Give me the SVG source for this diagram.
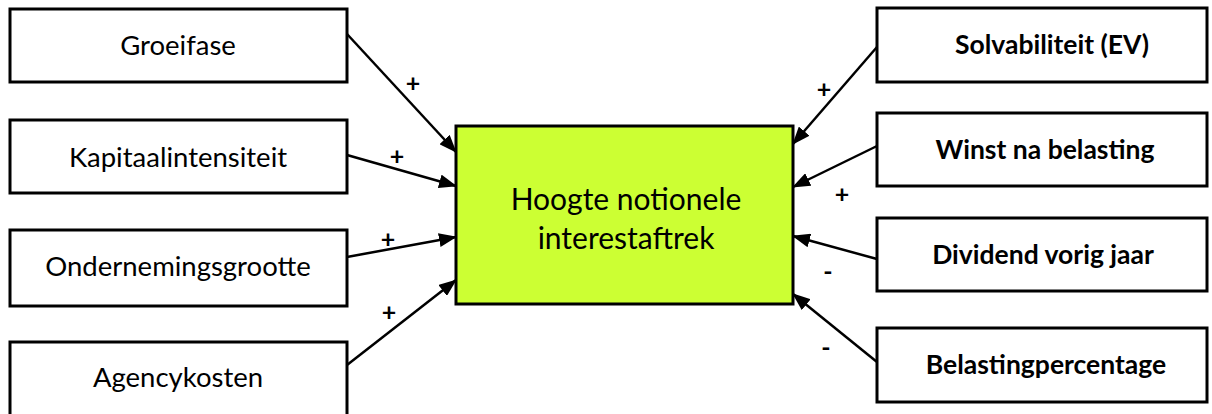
<svg xmlns="http://www.w3.org/2000/svg" width="1212" height="414" viewBox="0 0 1212 414">
  <style>
    .box { fill: #ffffff; stroke: #000000; stroke-width: 3; }
    .core { fill: #ccff33; stroke: #000000; stroke-width: 3; }
    .lbl { font-family: Lato, "Open Sans", sans-serif; font-size: 27.5px; fill: #000000; text-anchor: middle; }
    .bold { font-weight: bold; font-size: 26.5px; }
    .big { font-size: 30px; }
    .sign { font-family: Lato, "Open Sans", sans-serif; font-size: 25px; font-weight: bold; fill: #000000; text-anchor: middle; }
    .link { stroke: #000000; stroke-width: 2.5; fill: none; marker-end: url(#head); }
  </style>
  <defs>
    <marker id="head" viewBox="0 0 18 14" refX="17" refY="7" markerWidth="18" markerHeight="14" markerUnits="userSpaceOnUse" orient="auto">
      <path d="M0,0 L18,7 L0,14 Z" fill="#000000"/>
    </marker>
  </defs>

  <rect width="1212" height="414" fill="#ffffff"/>

  <!-- drivers on the left -->
  <g id="groeifase">
    <rect class="box" x="10" y="9" width="337" height="73"/>
    <text class="lbl" x="178" y="55">Groeifase</text>
  </g>
  <g id="kapitaalintensiteit">
    <rect class="box" x="10" y="120" width="337" height="73"/>
    <text class="lbl" x="178" y="167">Kapitaalintensiteit</text>
  </g>
  <g id="ondernemingsgrootte">
    <rect class="box" x="10" y="230" width="337" height="76"/>
    <text class="lbl" x="178" y="276">Ondernemingsgrootte</text>
  </g>
  <g id="agencykosten">
    <rect class="box" x="10" y="342" width="337" height="80"/>
    <text class="lbl" x="178" y="387">Agencykosten</text>
  </g>

  <!-- central outcome -->
  <g id="notionele-interestaftrek">
    <rect class="core" x="456" y="126" width="337" height="178"/>
    <text class="lbl big" x="626" y="210">Hoogte notionele</text>
    <text class="lbl big" x="626" y="249">interestaftrek</text>
  </g>

  <!-- drivers on the right -->
  <g id="solvabiliteit">
    <rect class="box" x="877" y="8" width="330" height="74"/>
    <text class="lbl bold" x="1052" y="54">Solvabiliteit (EV)</text>
  </g>
  <g id="winst">
    <rect class="box" x="877" y="113" width="330" height="73"/>
    <text class="lbl bold" x="1045" y="159">Winst na belasting</text>
  </g>
  <g id="dividend">
    <rect class="box" x="877" y="218" width="330" height="73"/>
    <text class="lbl bold" x="1043" y="264">Dividend vorig jaar</text>
  </g>
  <g id="belastingpercentage">
    <rect class="box" x="877" y="328" width="330" height="74"/>
    <text class="lbl bold" x="1046" y="374">Belastingpercentage</text>
  </g>

  <!-- influence arrows -->
  <g id="connectors">
    <line class="link" x1="347" y1="34" x2="456" y2="152"/>
    <line class="link" x1="347" y1="155" x2="456" y2="186"/>
    <line class="link" x1="347" y1="257" x2="456" y2="237"/>
    <line class="link" x1="347" y1="365" x2="456" y2="280"/>
    <line class="link" x1="877" y1="47" x2="793" y2="144"/>
    <line class="link" x1="877" y1="146" x2="793" y2="187"/>
    <line class="link" x1="877" y1="259" x2="793" y2="236"/>
    <line class="link" x1="877" y1="362" x2="793" y2="294"/>
    <text class="sign" x="413" y="92">+</text>
    <text class="sign" x="397" y="165">+</text>
    <text class="sign" x="388" y="248">+</text>
    <text class="sign" x="389" y="321">+</text>
    <text class="sign" x="824" y="98">+</text>
    <text class="sign" x="842" y="203">+</text>
    <text class="sign" x="828" y="280">-</text>
    <text class="sign" x="826" y="356">-</text>
  </g>
</svg>
